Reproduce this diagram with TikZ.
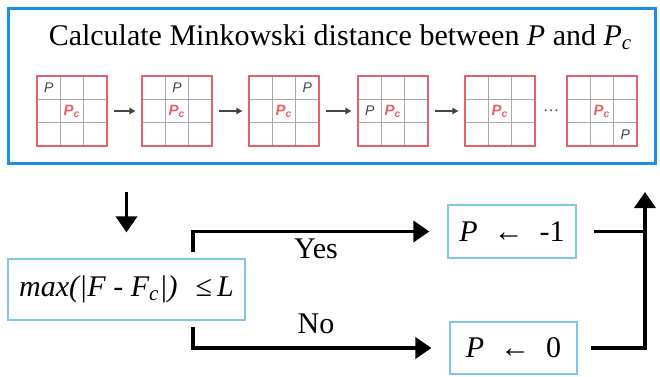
\documentclass[tikz,border=0pt]{standalone}
\usepackage{fontspec}
\setmainfont{Liberation Serif}
\newfontfamily\gridfont{Liberation Sans}
\usepackage{tikz}
\usetikzlibrary{arrows.meta, positioning, calc}
\definecolor{minkblue}{HTML}{1A8FEC}
\definecolor{minklight}{HTML}{7FC6EE}
\definecolor{minkred}{HTML}{E8606A}
\definecolor{minkgrey}{HTML}{A8A8A8}
\definecolor{minkdark}{HTML}{454545}

\begin{document}
\begin{tikzpicture}[x=0.5pt, y=-0.5pt,
  outer/.style={draw=minkblue, line width=1.5pt, minimum width=323.5pt,
    minimum height=77.5pt, inner sep=0pt},
  cellgrid/.style={draw=minkred, line width=0.6pt, minimum size=35pt, inner sep=0pt},
  gridline/.style={draw=minkgrey, line width=0.5pt},
  ptext/.style={font=\gridfont\itshape\fontsize{7}{7}\selectfont, text=minkdark, inner sep=0pt},
  pctext/.style={font=\gridfont\bfseries\itshape\fontsize{7.5}{7.5}\selectfont, text=minkred, inner sep=0pt},
  garrow/.style={-{Triangle[length=3pt, width=3.2pt]}, line width=0.6pt, draw=minkdark,
    shorten <=3pt, shorten >=3pt},
  box/.style={draw=minklight, line width=0.6pt, inner sep=0pt, font=\fontsize{15}{15}\selectfont},
  flow/.style={-{Triangle[length=8pt, width=10.5pt]}, line width=1.8pt},
  lbl/.style={font=\fontsize{15}{15}\selectfont, inner sep=0pt}]
  \useasboundingbox (0,0) rectangle (660,376);
  \node[outer] (top) at (331.5,85.5) {};
  \node[lbl, anchor=base] (title) at (340.5,45)
    {Calculate Minkowski distance between \textit{P} and \textit{P}\textsubscript{\textit{c}}};
  \foreach \gx/\pc/\pr [count=\i] in {37/0/0, 142/1/0, 249/2/0, 358/0/1, 465/9/9, 567/2/2} {
    \foreach \k in {1,2} {
      \draw[gridline] (\gx+\k*23.33,76) -- (\gx+\k*23.33,146);
      \draw[gridline] (\gx,76+\k*23.33) -- (\gx+70,76+\k*23.33);
    }
    \node[cellgrid] (g\i) at (\gx+35,111) {};
    \node[pctext] (c\i) at (g\i) {P\textsubscript{c}};
    \ifnum\pc<3
      \node[ptext] (p\i) at (\gx+11.67+\pc*23.33,87.67+\pr*23.33) {P};
    \fi
  }
  \foreach \a/\b in {1/2, 2/3, 3/4, 4/5}
    \draw[garrow] (g\a) -- (g\b);
  \node[font=\fontsize{8}{8}\selectfont, text=minkdark, inner sep=0pt] (dots)
    at ($(g5.east)!0.5!(g6.west)$) {\dots};

  \node[box, minimum width=118.5pt, minimum height=30.5pt]
    (cond) at (126.5,289.5) {\textit{max(|F - F\textsubscript{c}|)}\hspace{0.6em}≤\,\textit{L}};
  \node[box, minimum width=64pt, minimum height=26.5pt] (pm1) at (512,231.5)
    {\textit{P}\hspace{8pt}←\hspace{8pt}-1};
  \node[box, minimum width=63.5pt, minimum height=26pt] (p0) at (513.5,348)
    {\textit{P}\hspace{8pt}←\hspace{8pt}0};
  \node[lbl, anchor=base] (yes) at (316,258) {Yes};
  \node[lbl, anchor=base] (no) at (316,333) {No};
  \coordinate (ret) at (645,192);

  \draw[flow, shorten <=13.5pt, shorten >=13pt] (cond.north |- top.south) -- (cond.north);
  \draw[flow, shorten <=3pt, shorten >=9pt] ([xshift=33.25pt]cond.north) |- (pm1.west);
  \draw[flow, shorten <=3pt, shorten >=9pt] ([xshift=33.25pt]cond.south) |- (p0.west);
  \draw[line width=1.8pt, shorten <=8.5pt] (pm1.east) -- (pm1.east -| ret);
  \draw[flow, shorten <=6.5pt] (p0.east) -| (ret);
\end{tikzpicture}
\end{document}
